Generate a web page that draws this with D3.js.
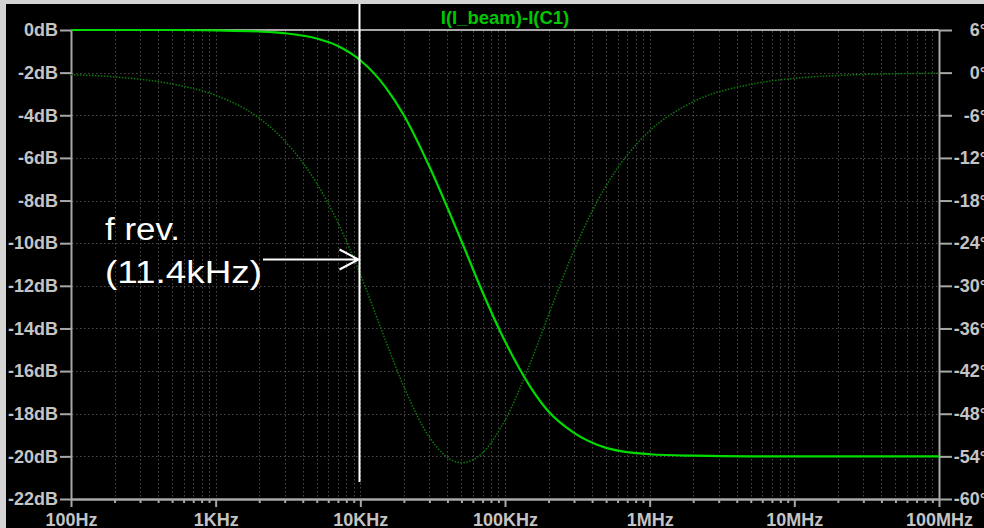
<!DOCTYPE html>
<html>
<head>
<meta charset="utf-8">
<script src="https://cdn.jsdelivr.net/npm/d3@7"></script>
<style>
  html, body { margin: 0; padding: 0; background: #d4d4d4; }
  svg { display: block; }
  .axis text { font-family: "Liberation Sans", Arial, sans-serif; font-weight: bold; font-size: 18px; fill: #c4c4c4; }
  .axis path, .axis line { stroke: #a8a8a8; stroke-width: 2; }
</style>
</head>
<body>
<script>
// frequencies (Hz) and the two traces
const freqs    = [100, 200, 500, 1e3, 2e3, 3e3, 5e3, 7e3, 1e4, 1.5e4, 2e4, 3e4, 5e4, 7e4, 1e5, 1.5e5, 2e5, 3e5, 5e5, 7e5, 1e6, 2e6, 5e6, 1e7, 2e7, 5e7, 1e8];
const magDb    = [0, 0, 0, -0.02, -0.07, -0.15, -0.4, -0.75, -1.42, -2.7, -4.0, -6.4, -9.9, -12.3, -14.6, -16.75, -17.9, -18.9, -19.6, -19.8, -19.9, -19.97, -20, -20, -20, -20, -20];
const phaseDeg = [-0.3, -0.6, -1.6, -3.2, -6.4, -9.6, -15.6, -21.1, -28.4, -37.8, -44.2, -51.3, -54.9, -53.5, -48.9, -40.8, -34.1, -25.0, -15.9, -11.6, -8.2, -4.1, -1.65, -0.8, -0.4, -0.16, -0.08];

const decadeTicks  = [100, 1e3, 1e4, 1e5, 1e6, 1e7, 1e8];
const decadeLabels = ["100Hz", "1KHz", "10KHz", "100KHz", "1MHz", "10MHz", "100MHz"];
const dbTicks    = d3.range(-22, 1, 2);
const phaseTicks = d3.range(-60, 7, 6);

const fRev = 1e4;
const title = "I(I_beam)-I(C1)";

const w = 984, h = 528;

const svg = d3.select("body").append("svg")
  .attr("width", w)
  .attr("height", h);

// black panel (light border top/left like the screenshot)
svg.append("rect").attr("x", 6).attr("y", 4).attr("width", w - 6).attr("height", h - 4).attr("fill", "#000");

const x = d3.scaleLog().domain([100, 1e8]).range([71, 939]);
const yMag = d3.scaleLinear().domain([-22, 0]).range([499, 30]);
const yPh = d3.scaleLinear().domain([-60, 6]).range([499, 30]);

// minor frequencies for grid
const minorFreqs = [];
decadeTicks.slice(0, -1).forEach(d => { for (let k = 2; k <= 9; k++) minorFreqs.push(d * k); });

const grid = svg.append("g").attr("stroke", "#4a4a4a").attr("stroke-width", 1).attr("stroke-dasharray", "1.5,2.5");
grid.selectAll("line.v")
  .data(decadeTicks.slice(1, -1).concat(minorFreqs))
  .enter().append("line")
  .attr("x1", d => Math.round(x(d)) + 0.5).attr("x2", d => Math.round(x(d)) + 0.5)
  .attr("y1", 31).attr("y2", 498);
grid.selectAll("line.h")
  .data(dbTicks.slice(1, -1))
  .enter().append("line")
  .attr("x1", 72).attr("x2", 938)
  .attr("y1", d => Math.round(yMag(d)) + 0.5).attr("y2", d => Math.round(yMag(d)) + 0.5);

// axes
const leftAxis = svg.append("g").attr("class", "axis")
  .attr("transform", "translate(71,0)")
  .call(d3.axisLeft(yMag).tickValues(dbTicks).tickSize(11).tickSizeOuter(0).tickFormat(d => d + "dB"));
leftAxis.selectAll("text").attr("x", -13);

const rightAxis = svg.append("g").attr("class", "axis")
  .attr("transform", "translate(939,0)")
  .call(d3.axisRight(yPh).tickValues(phaseTicks).tickSize(13).tickSizeOuter(0).tickFormat(d => d + "°"));
rightAxis.selectAll("text").attr("x", 48).attr("text-anchor", "end");

svg.append("g").attr("class", "axis")
  .attr("transform", "translate(0,499)")
  .call(d3.axisBottom(x).tickValues(minorFreqs).tickSize(4).tickSizeOuter(0).tickFormat(""));

const bottomAxis = svg.append("g").attr("class", "axis")
  .attr("transform", "translate(0,499)")
  .call(d3.axisBottom(x).tickValues(decadeTicks).tickSize(8).tickSizeOuter(0).tickFormat((d, i) => decadeLabels[i]));
bottomAxis.selectAll("text").attr("y", 14);

// top frame
svg.append("line")
  .attr("x1", 71).attr("x2", 939).attr("y1", 30).attr("y2", 30)
  .attr("stroke", "#a8a8a8").attr("stroke-width", 2);

// traces
const pts = freqs.map((f, i) => ({ f: f, m: magDb[i], p: phaseDeg[i] }));

svg.append("path")
  .datum(pts)
  .attr("fill", "none")
  .attr("stroke", "#0a7a0a")
  .attr("stroke-width", 1.5)
  .attr("stroke-dasharray", "1.5,1.5")
  .attr("d", d3.line().x(d => x(d.f)).y(d => yPh(d.p)).curve(d3.curveMonotoneX));

svg.append("path")
  .datum(pts)
  .attr("fill", "none")
  .attr("stroke", "#00dc00")
  .attr("stroke-width", 2.2)
  .attr("d", d3.line().x(d => x(d.f)).y(d => yMag(d.m)).curve(d3.curveMonotoneX));

// title
svg.append("text")
  .attr("x", 505).attr("y", 24)
  .attr("text-anchor", "middle")
  .attr("font-family", "Liberation Sans, Arial, sans-serif")
  .attr("font-weight", "bold")
  .attr("font-size", 18.5)
  .attr("fill", "#00c800")
  .text(title);

// annotation
const fx = Math.round(x(fRev)) - 0.5;
svg.append("line")
  .attr("x1", fx).attr("x2", fx).attr("y1", 4).attr("y2", 482)
  .attr("stroke", "#fff").attr("stroke-width", 2);

const ann = svg.append("text")
  .attr("font-family", "Liberation Sans, Arial, sans-serif")
  .attr("font-size", 31)
  .attr("fill", "#fff");
ann.append("tspan").attr("x", 105).attr("y", 240)
  .attr("textLength", 75).attr("lengthAdjust", "spacingAndGlyphs").text("f rev.");
ann.append("tspan").attr("x", 105).attr("y", 283)
  .attr("textLength", 157).attr("lengthAdjust", "spacingAndGlyphs").text("(11.4kHz)");

svg.append("path")
  .attr("d", `M263,259.5H${fx - 1}M${fx - 20},249.5L${fx - 1},259.5L${fx - 20},269.5`)
  .attr("fill", "none")
  .attr("stroke", "#fff")
  .attr("stroke-width", 2);
</script>
</body>
</html>
